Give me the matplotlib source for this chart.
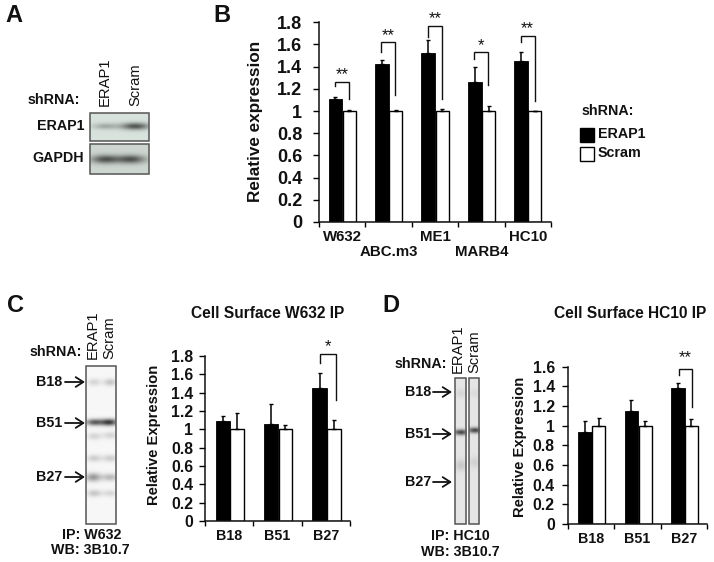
import numpy as np
import matplotlib
matplotlib.use("Agg")
import matplotlib.pyplot as plt
from matplotlib.patches import Rectangle

plt.rcParams['font.family'] = ['Liberation Sans', 'DejaVu Sans']
W, H = 714, 562
INK = '#111111'

# ---- data ----
b_groups = ['W632', 'ABC.m3', 'ME1', 'MARB4', 'HC10']
b_erap1 = [1.11, 1.42, 1.52, 1.26, 1.45]
b_erap1_err = [0.015, 0.04, 0.12, 0.135, 0.085]
b_scram = [1.0, 1.0, 1.0, 1.0, 1.0]
b_scram_err = [0.006, 0.006, 0.015, 0.05, 0.004]
b_stars = ['**', '**', '**', '*', '**']
b_top = [1.265, 1.623, 1.77, 1.533, 1.68]
b_left = [1.226, 1.53, 1.67, 1.466, 1.62]
b_right = [1.106, 1.145, 1.106, 1.235, 1.094]
b_yticks = [0, .2, .4, .6, .8, 1, 1.2, 1.4, 1.6, 1.8]

hla_groups = ['B18', 'B51', 'B27']
c_erap1 = [1.09, 1.06, 1.45]
c_erap1_err = [0.06, 0.215, 0.17]
c_scram = [1.0, 1.0, 1.0]
c_scram_err = [0.175, 0.05, 0.1]
c_yticks = [0, .2, .4, .6, .8, 1, 1.2, 1.4, 1.6, 1.8]

d_erap1 = [0.94, 1.15, 1.38]
d_erap1_err = [0.11, 0.11, 0.05]
d_scram = [1.0, 1.0, 1.0]
d_scram_err = [0.08, 0.05, 0.07]
d_yticks = [0, .2, .4, .6, .8, 1, 1.2, 1.4, 1.6]

# gel bands: lane x, y, half-width x, half-width y, darkness (pixels of the figure)
a_erap1_bands = [(105, 126, 9, 2.2, .25), (135, 126, 10, 2.5, .62)]
a_gapdh_bands = [(105, 159, 10, 3, .6), (131, 159, 10, 3, .6)]
c_bands = [(94, 382, 4.5, 2.5, .14), (110, 382, 4.5, 2.5, .2),
           (94, 422, 6, 2.3, .6), (109, 422, 6, 2.4, .75),
           (94, 436, 5, 2.5, .14), (110, 435, 5, 2.5, .14),
           (94, 458, 5, 2.5, .17), (110, 458, 5, 2.5, .17),
           (93, 477, 5.5, 3, .38), (110, 477, 5.5, 2.6, .25),
           (94, 493, 5, 2.4, .2), (110, 493, 5, 2.4, .13)]
d_left_bands = [(460, 432, 5, 2, .7), (460, 393, 4, 3, .07), (460, 465, 4, 4, .13)]
d_right_bands = [(474, 430, 5, 2, .7), (474, 393, 4, 3, .05), (474, 462, 4, 4, .09)]

fig = plt.figure(figsize=(W / 100, H / 100), dpi=100)
bg = fig.add_axes([0, 0, 1, 1], zorder=0)


def blot(x0, y0, x1, y1, tint, bands, edge='#555555'):
    xs, ys = np.meshgrid(np.arange(x0, x1, .5), np.arange(y0, y1, .5))
    ink = np.zeros_like(xs, dtype=float)
    for cx, cy, sx, sy, amp in bands:
        ink += amp * np.exp(-((xs - cx) / sx) ** 2 / 2 - ((ys - cy) / sy) ** 2 / 2)
    rgb = np.dstack([c * (1 - np.clip(ink, 0, 1)) for c in tint])
    bg.imshow(rgb, extent=(x0, x1, y1, y0), aspect='auto', interpolation='bilinear')
    bg.add_patch(Rectangle((x0, y0), x1 - x0, y1 - y0, fill=False, ec=edge, lw=1.1))


blot(90, 113, 149, 141, (.85, .89, .87), a_erap1_bands)
blot(90, 144, 149, 174, (.81, .84, .82), a_gapdh_bands)
blot(86, 366, 116, 524, (.97, .97, .97), c_bands)
blot(454.5, 378, 466, 524, (.90, .90, .90), d_left_bands)
blot(468.5, 378, 479, 524, (.90, .90, .90), d_right_bands)
bg.set_xlim(0, W)
bg.set_ylim(H, 0)
bg.axis('off')


def T(x, y, s, size=10.3, weight='bold', ha='center', va='center', rot=0):
    bg.text(x, y, s, fontsize=size, fontweight=weight, ha=ha, va=va, rotation=rot,
            color=INK, rotation_mode='anchor' if rot else 'default')


for x, y, s in [(5, 15, 'A'), (213, 15, 'B'), (7, 305, 'C'), (382, 305, 'D')]:
    T(x, y, s, size=17, ha='left')

# A labels
T(80, 100, 'shRNA:', ha='right')
T(84, 126, 'ERAP1', ha='right')
T(84, 158, 'GAPDH', ha='right')
T(105, 106, 'ERAP1', size=10.6, weight='normal', ha='left', rot=90)
T(135, 106, 'Scram', size=10.6, weight='normal', ha='left', rot=90)

# legend
T(582, 111, 'shRNA:', ha='left')
bg.add_patch(Rectangle((580, 128), 14, 13.5, fc='black', ec='black', lw=1))
bg.add_patch(Rectangle((580, 147), 14, 13.5, fc='white', ec='black', lw=1))
T(598, 134, 'ERAP1', ha='left')
T(598, 153, 'Scram', ha='left')

# C labels
T(82, 352, 'shRNA:', ha='right')
T(93, 359, 'ERAP1', size=10.6, weight='normal', ha='left', rot=90)
T(109, 359, 'Scram', size=10.6, weight='normal', ha='left', rot=90)
T(92, 535, 'IP: W632')
T(90, 550, 'WB: 3B10.7')
T(267.5, 313, 'Cell Surface W632 IP', size=11.2)

# D labels
T(447, 364, 'shRNA:', ha='right')
T(458, 373, 'ERAP1', size=10.6, weight='normal', ha='left', rot=90)
T(474, 373, 'Scram', size=10.6, weight='normal', ha='left', rot=90)
T(460, 536, 'IP: HC10')
T(460, 552, 'WB: 3B10.7')
T(630, 313, 'Cell Surface HC10 IP', size=11.2)


def arrow(label, x_text, x0, x1, y):
    T(x_text, y, label, ha='right')
    bg.annotate('', xy=(x1, y), xytext=(x0, y),
                arrowprops=dict(arrowstyle='->,head_length=0.55,head_width=0.35', lw=1.3,
                                color=INK, shrinkA=0, shrinkB=0))


for lab, y in zip(hla_groups, [382, 423, 477]):
    arrow(lab, 62, 65, 85, y)
for lab, y in zip(hla_groups, [392, 434, 482]):
    arrow(lab, 431, 433, 452, y)


def panel(x0, x1, y_top, y0, ymax, ticks, groups, black, black_err, white, white_err,
          tick_size, cat_size, ylabel, yl_x, yl_y, yl_size, bw=(.355, .655), w=.30, pad=4):
    ax = fig.add_axes([x0 / W, 1 - y0 / H, (x1 - x0) / W, (y0 - y_top) / H], zorder=2)
    ax.patch.set_alpha(0)
    n = len(groups)
    pos = np.arange(n)
    ekw = dict(ecolor='black', elinewidth=1.1, capsize=1.6, capthick=1.0)
    ax.bar(pos + bw[0], black, w, color='black', edgecolor='black', linewidth=.6,
           yerr=[np.zeros(n), black_err], error_kw=ekw)
    ax.bar(pos + bw[1], white, w - .02, color='white', edgecolor='black', linewidth=1.0,
           yerr=[np.zeros(n), white_err], error_kw=ekw)
    ax.set_xlim(0, n)
    ax.set_ylim(0, ymax)
    for s in ('top', 'right'):
        ax.spines[s].set_visible(False)
    for s in ('left', 'bottom'):
        ax.spines[s].set_linewidth(1.1)
        ax.spines[s].set_color(INK)
    ax.set_yticks(ticks, [f'{t:g}' for t in ticks], fontsize=tick_size, fontweight='bold', color=INK)
    ax.set_xticks(np.arange(n + 1), [''] * (n + 1))
    ax.set_xticks(pos + .5, groups, minor=True, fontsize=cat_size, fontweight='bold', color=INK)
    ax.tick_params(axis='y', length=4.5, width=1.0, pad=pad)
    ax.tick_params(axis='x', which='major', length=3.5, width=1.0)
    ax.tick_params(axis='x', which='minor', length=0, pad=6)
    ax.set_ylabel(ylabel, fontsize=yl_size, fontweight='bold', color=INK)
    ax.yaxis.set_label_coords((yl_x - x0) / (x1 - x0), (y0 - yl_y) / (y0 - y_top))
    return ax


def bracket(ax, i, xl, xr, top, left, right, stars, y_star, size=12):
    ax.plot([i + xl, i + xl, i + xr, i + xr], [left, top, top, right], color=INK, lw=1.0,
            clip_on=False, solid_joinstyle='miter')
    ax.text(i + (xl + xr) / 2, y_star, stars, ha='center', va='center', fontsize=size,
            color=INK, clip_on=False)


ax_b = panel(319, 551, 22.3, 222, 1.8, b_yticks, b_groups, b_erap1, b_erap1_err, b_scram, b_scram_err,
             13, 10.8, 'Relative expression', 263, 121, 12.3, pad=7.5)
for t in ax_b.xaxis.get_minor_ticks()[1::2]:
    t.set_pad(16.5)
for i in range(len(b_groups)):
    bracket(ax_b, i, .345, .647, b_top[i], b_left[i], b_right[i], b_stars[i], b_top[i] + .06)

ax_c = panel(205, 350, 356, 521, 1.8, c_yticks, hla_groups, c_erap1, c_erap1_err, c_scram, c_scram_err,
             11.3, 10.3, 'Relative Expression', 161, 435, 10.6, bw=(.37, .665), w=.30)
bracket(ax_c, 2, .38, .71, 1.825, 1.72, 1.316, '*', 1.9)

ax_d = panel(568, 707, 366.7, 524, 1.6, d_yticks, hla_groups, d_erap1, d_erap1_err, d_scram, d_scram_err,
             11.3, 10.3, 'Relative Expression', 527, 447, 10.6, bw=(.37, .665), w=.30, pad=5)
bracket(ax_d, 2, .39, .68, 1.58, 1.515, 1.194, '**', 1.69)

fig.savefig('out.png', dpi=100)
